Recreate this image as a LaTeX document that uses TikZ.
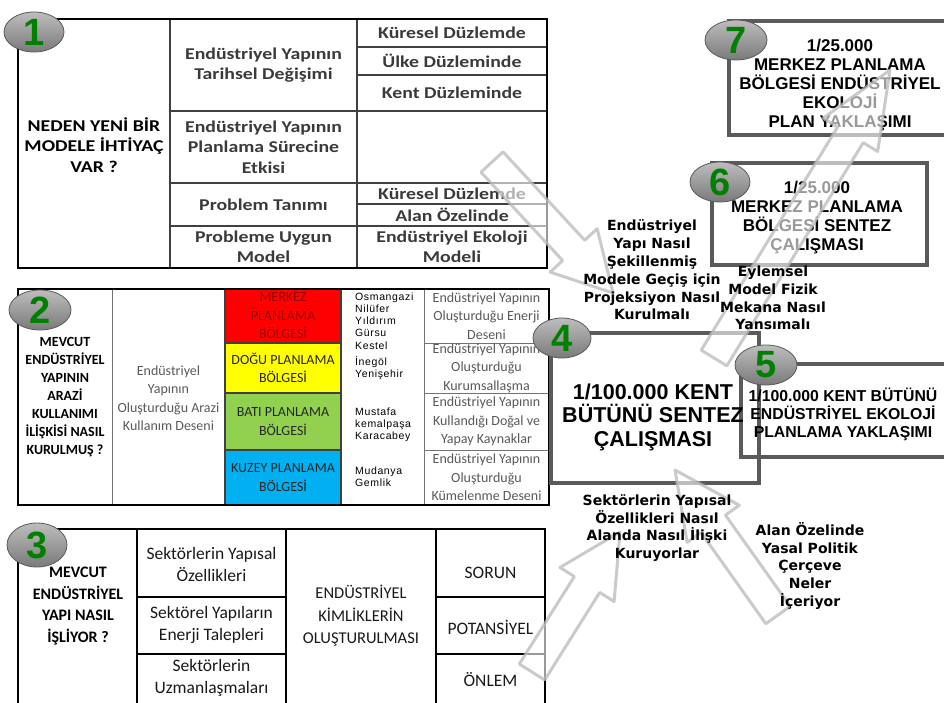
\documentclass[tikz,border=0pt]{standalone}
\usepackage{fontspec}
\setmainfont{Carlito}
\newfontfamily\widefont[FakeStretch=1.2]{Carlito}
\newfontfamily\arialfont{Liberation Sans}
\newfontfamily\townfont[LetterSpace=6]{Liberation Sans}
\newfontfamily\verdanafont{DejaVu Sans}
\usetikzlibrary{calc,shapes.geometric}
\definecolor{merkezred}{HTML}{FF0000}
\definecolor{doguyellow}{HTML}{FFFF00}
\definecolor{batigreen}{HTML}{92D050}
\definecolor{kuzeyblue}{HTML}{00B0F0}
\definecolor{numgreen}{HTML}{008000}
\definecolor{boxgray}{HTML}{5A5A5A}
\definecolor{txtgray}{HTML}{3A3A3A}
\definecolor{lightgray}{HTML}{595959}
\definecolor{merkeztext}{HTML}{9A0000}
\definecolor{balltop}{HTML}{BDBDBD}
\definecolor{ballbottom}{HTML}{7A7A7A}
\tikzset{
  outerline/.style={draw=black, line width=2.2pt},
  innerline/.style={draw=black!75, line width=1.3pt},
  thinline/.style={draw=black!55, line width=0.9pt},
  tableone/.style={inner sep=0pt, align=center, text=txtgray, font=\widefont\bfseries\fontsize{16.5}{20.5}\selectfont},
  tabletwo/.style={inner sep=0pt, align=center, text=lightgray, font=\fontsize{14}{18.5}\selectfont},
  tabletwobold/.style={inner sep=0pt, align=center, text=black, font=\bfseries\fontsize{14}{18}\selectfont},
  towns/.style={inner sep=0pt, anchor=west, align=left, text=black, font=\townfont\fontsize{10.5}{12.2}\selectfont},
  tablethree/.style={inner sep=0pt, align=center, text=black!90, font=\fontsize{17.5}{22}\selectfont},
  tablethreebold/.style={inner sep=0pt, align=center, text=black, font=\bfseries\fontsize{16}{21.7}\selectfont},
  planbox/.style={draw=boxgray, line width=3.5pt, inner sep=0pt},
  plantext/.style={inner sep=0pt, align=center, text=black, font=\arialfont\bfseries\fontsize{17}{19}\selectfont},
  question/.style={inner sep=0pt, align=center, text=black, font=\verdanafont\bfseries\fontsize{14}{17.8}\selectfont},
  numball/.style={ellipse, minimum width=60pt, minimum height=40pt, inner sep=0pt, top color=balltop, bottom color=ballbottom, draw=gray!70!black, line width=0.8pt, text=numgreen, font=\arialfont\bfseries\fontsize{38}{38}\selectfont},
  bigarrow/.style={draw=gray!55, line width=3pt, line join=round, fill=white, fill opacity=0.6, draw opacity=0.75}
}
\begin{document}
\begin{tikzpicture}[x=1pt, y=-1pt]
\useasboundingbox (0,0) rectangle (944,702);

\draw[innerline] (170,19) -- (170,268) (357,19) -- (357,268)
  (170,111) -- (357,111) (170,183) -- (357,183) (170,226) -- (357,226)
  (357,47) -- (547,47) (357,75) -- (547,75) (357,111) -- (547,111)
  (357,183) -- (547,183) (357,204) -- (547,204) (357,226) -- (547,226);
\draw[outerline] (18,19) rectangle (547,268);
\node[tableone, text=black] (neden) at (94,145) {NEDEN YENİ BİR\\MODELE İHTİYAÇ\\VAR ?};
\node[tableone] (tarihsel) at (263.5,65) {Endüstriyel Yapının\\Tarihsel Değişimi};
\node[tableone] (surec) at (263.5,147) {Endüstriyel Yapının\\Planlama Sürecine\\Etkisi};
\node[tableone] (problem) at (263.5,204.5) {Problem Tanımı};
\node[tableone] (uygun) at (263.5,247) {Probleme Uygun\\Model};
\node[tableone] (kuresel) at (452,33) {Küresel Düzlemde};
\node[tableone] (ulke) at (452,61) {Ülke Düzleminde};
\node[tableone] (kent) at (452,93) {Kent Düzleminde};
\node[tableone] (kuresel2) at (452,194) {Küresel Düzlemde};
\node[tableone] (alan) at (452,215) {Alan Özelinde};
\node[tableone] (ekoloji) at (452,247) {Endüstriyel Ekoloji\\Modeli};

\fill[merkezred] (225,289) rectangle (341,343);
\fill[doguyellow] (225,343) rectangle (341,393);
\fill[batigreen] (225,393) rectangle (341,450);
\fill[kuzeyblue] (225,450) rectangle (341,505);
\draw[thinline] (112,289) -- (112,505) (424,289) -- (424,505)
  (424,343) -- (549,343) (424,393) -- (549,393) (424,450) -- (549,450);
\draw[innerline] (225,289) -- (225,505) (341,289) -- (341,505)
  (225,343) -- (341,343) (225,393) -- (341,393) (225,450) -- (341,450);
\draw[outerline] (18,289) rectangle (549,505);
\node[tabletwobold] (arazi) at (65,397) {MEVCUT\\ENDÜSTRİYEL\\YAPININ\\ARAZİ\\KULLANIMI\\İLİŞKİSİ NASIL\\KURULMUŞ ?};
\node[tabletwo] (desen) at (168.5,398) {Endüstriyel\\Yapının\\Oluşturduğu Arazi\\Kullanım Deseni};
\node[tabletwo, text=merkeztext] (merkez) at (283,316) {MERKEZ\\PLANLAMA\\BÖLGESİ};
\node[tabletwo, text=black!85] (dogu) at (283,368) {DOĞU PLANLAMA\\BÖLGESİ};
\node[tabletwo, text=black!85] (bati) at (283,421.5) {BATI PLANLAMA\\BÖLGESİ};
\node[tabletwo, text=black!85] (kuzey) at (283,477.5) {KUZEY PLANLAMA\\BÖLGESİ};
\node[towns] (ilce1) at (355,321) {Osmangazi\\Nilüfer\\Yıldırım\\Gürsu\\Kestel};
\node[towns] (ilce2) at (355,368) {İnegöl\\Yenişehir};
\node[towns] (ilce3) at (355,425) {Mustafa\\kemalpaşa\\Karacabey};
\node[towns] (ilce4) at (355,477) {Mudanya\\Gemlik};
\node[tabletwo] (enerji) at (486.5,316) {Endüstriyel Yapının\\Oluşturduğu Enerji\\Deseni};
\node[tabletwo] (kurum) at (486.5,368) {Endüstriyel Yapının\\Oluşturduğu\\Kurumsallaşma};
\node[tabletwo] (kaynak) at (486.5,421.5) {Endüstriyel Yapının\\Kullandığı Doğal ve\\Yapay Kaynaklar};
\node[tabletwo] (kume) at (486.5,477.5) {Endüstriyel Yapının\\Oluşturduğu\\Kümelenme Deseni};

\draw[innerline, draw=black] (137,529) -- (137,705) (286,529) -- (286,705) (436,529) -- (436,705)
  (137,597) -- (286,597) (137,654) -- (286,654) (436,597) -- (545,597) (436,654) -- (545,654);
\draw[outerline] (545,705) -- (545,529) -- (18,529) -- (18,705);
\node[tablethreebold] (isleyis) at (78,606) {MEVCUT\\ENDÜSTRİYEL\\YAPI NASIL\\İŞLİYOR ?};
\node[tablethree] (yapisal) at (211.5,564) {Sektörlerin Yapısal\\Özellikleri};
\node[tablethree] (talep) at (211.5,625) {Sektörel Yapıların\\Enerji Talepleri};
\node[tablethree] (uzman) at (211.5,677.5) {Sektörlerin\\Uzmanlaşmaları};
\node[tablethree, font=\fontsize{16.5}{22.5}\selectfont] (kimlik) at (361,616) {ENDÜSTRİYEL\\KİMLİKLERİN\\OLUŞTURULMASI};
\node[tablethree] (sorun) at (490.5,573) {SORUN};
\node[tablethree] (potansiyel) at (490.5,627) {POTANSİYEL};
\node[tablethree] (onlem) at (490.5,680) {ÖNLEM};

\node[planbox, minimum width=208pt, minimum height=150pt] (box4) at (655,408) {};
\node[planbox, minimum width=214pt, minimum height=93pt] (box5) at (848,410.5) {};
\node[planbox, minimum width=215pt, minimum height=102pt] (box6) at (819.5,214) {};
\node[planbox, minimum width=226pt, minimum height=114pt] (box7) at (842,78) {};
\node[plantext, font=\arialfont\bfseries\fontsize{21.5}{23.5}\selectfont] (kentsentez) at (653,417) {1/100.000 KENT\\BÜTÜNÜ SENTEZ\\ÇALIŞMASI};
\node[plantext, font=\arialfont\bfseries\fontsize{15.8}{18}\selectfont] (kentplan) at (843,414) {1/100.000 KENT BÜTÜNÜ\\ENDÜSTRİYEL EKOLOJİ\\PLANLAMA YAKLAŞIMI};
\node[plantext] (merkezsentez) at (817,218) {1/25.000\\MERKEZ PLANLAMA\\BÖLGESİ SENTEZ\\ÇALIŞMASI};
\node[plantext] (merkezplan) at (840,85) {1/25.000\\MERKEZ PLANLAMA\\BÖLGESİ ENDÜSTRİYEL\\EKOLOJİ\\PLAN YAKLAŞIMI};

\coordinate (aT) at (492,162);
\coordinate (aP) at (613,293);
\coordinate (bT) at (714,358);
\coordinate (bP) at (890,70);
\coordinate (cT) at (532,672);
\coordinate (cP) at (620,532);
\coordinate (dT) at (778,615);
\coordinate (dP) at (675,470);
\foreach \t/\p/\h in {aT/aP/58pt, bT/bP/76pt, cT/cP/62pt, dT/dP/66pt}
  \draw[bigarrow] ($(\t)!15pt!90:(\p)$) -- ($($(\p)!\h!(\t)$)!15pt!-90:(\t)$)
    -- ($($(\p)!\h!(\t)$)!32pt!-90:(\t)$) -- (\p)
    -- ($($(\p)!\h!(\t)$)!32pt!90:(\t)$) -- ($($(\p)!\h!(\t)$)!15pt!90:(\t)$)
    -- ($(\t)!15pt!-90:(\p)$) -- cycle;

\node[question] (projeksiyon) at (652,270) {Endüstriyel\\Yapı Nasıl\\Şekillenmiş\\Modele Geçiş için\\Projeksiyon Nasıl\\Kurulmalı};
\node[question] (eylemsel) at (773,298) {Eylemsel\\Model Fizik\\Mekana Nasıl\\Yansımalı};
\node[question] (iliski) at (657,528) {Sektörlerin Yapısal\\Özellikleri Nasıl\\Alanda Nasıl İlişki\\Kuruyorlar};
\node[question] (cerceve) at (810,566) {Alan Özelinde\\Yasal Politik\\Çerçeve\\Neler\\İçeriyor};

\node[numball] (n1) at (34,32) {1};
\node[numball, minimum width=62pt] (n2) at (40,310) {2};
\node[numball, minimum height=44pt] (n3) at (37,545) {3};
\node[numball, minimum width=58pt] (n4) at (562,338) {4};
\node[numball, minimum width=62pt] (n5) at (766,365) {5};
\node[numball] (n6) at (720,182) {6};
\node[numball, minimum width=62pt] (n7) at (736,40) {7};
\end{tikzpicture}
\end{document}
